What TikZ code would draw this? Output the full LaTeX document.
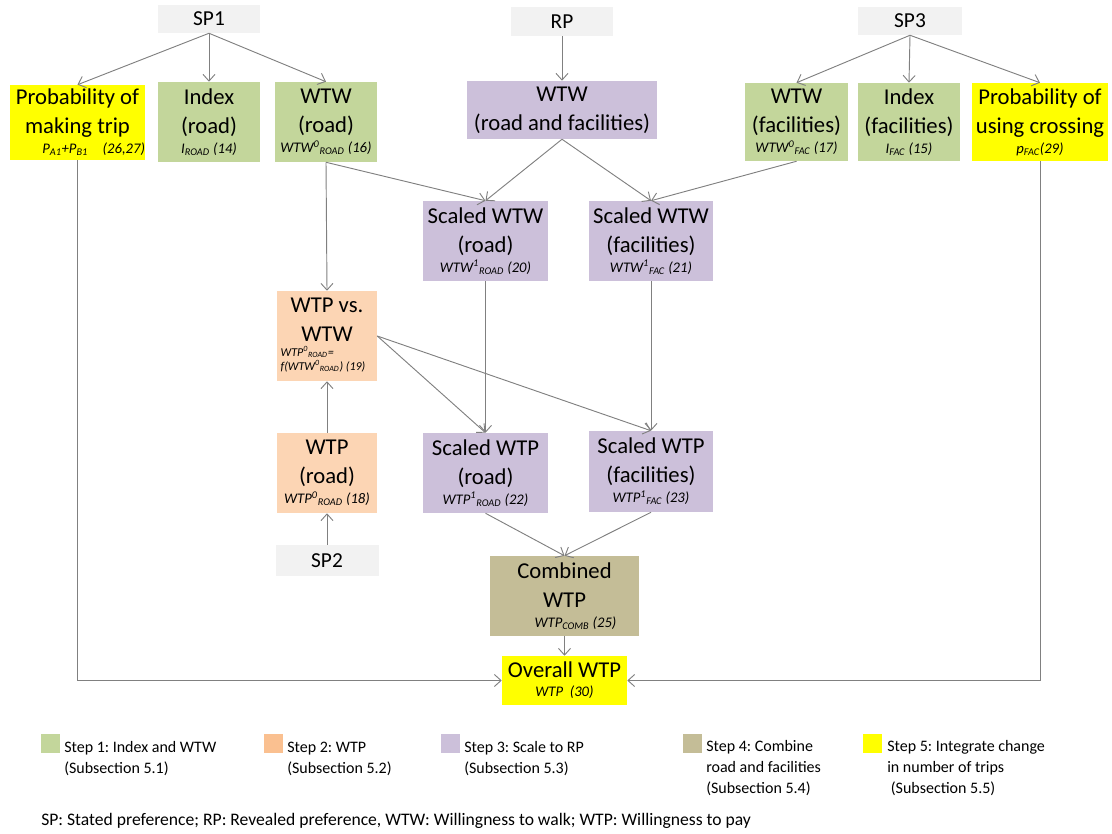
\documentclass[tikz,border=0pt]{standalone}
\usepackage{fontspec}
\setmainfont{Carlito}
\usetikzlibrary{arrows.meta}
\definecolor{spgray}{HTML}{F2F2F2}
\definecolor{stepgreen}{HTML}{C3D69B}
\definecolor{stepyellow}{HTML}{FFFF00}
\definecolor{steppurple}{HTML}{CCC0DA}
\definecolor{steporange}{HTML}{FCD5B4}
\definecolor{legorange}{HTML}{FAC090}
\definecolor{steptan}{HTML}{C4BD97}
\definecolor{arrowgray}{HTML}{808080}
\newcommand{\sublbl}[1]{{\fontsize{11}{13}\selectfont\itshape #1}}
\tikzset{
  box/.style={inner sep=0pt, align=center, font=\fontsize{17}{21.75}\selectfont},
  spbox/.style={fill=spgray, inner sep=0pt, font=\fontsize{16}{19}\selectfont},
  conn/.style={draw=arrowgray, line width=0.7pt, -{Straight Barb[length=5pt,width=9pt]}},
  legsq/.style={inner sep=0pt, minimum width=14.25pt, minimum height=14.25pt},
  legtext/.style={anchor=base west, inner sep=0pt, align=left, font=\fontsize{12}{15.5}\selectfont}
}
\begin{document}
\begin{tikzpicture}[x=0.75pt, y=-0.75pt]
\useasboundingbox (0,0) rectangle (1112,834);

% sources
\node[spbox, minimum width=76.5pt, minimum height=21pt] (sp1) at (209,19) {SP1};
\node[spbox, minimum width=76.5pt, minimum height=21.75pt] (rp) at (562,21.5) {RP};
\node[spbox, minimum width=78pt, minimum height=21pt] (sp3) at (910,21) {SP3};
\node[spbox, minimum width=77.25pt, minimum height=23.25pt] (sp2) at (327,560.5) {SP2};

% step 1 / 5 top row
\node[box, fill=stepyellow, minimum width=101.25pt, minimum height=56.25pt] (probA) at (77.5,122.5)
  {Probability of\\making trip\\[-6.75pt]\sublbl{\hspace*{2.2em}P\textsubscript{A1}+P\textsubscript{B1}\quad(26,27)}};
\node[box, fill=stepgreen, minimum width=76.5pt, minimum height=60pt] (idxR) at (209,122)
  {Index\\(road)\\[-6.75pt]\sublbl{I\textsubscript{ROAD} (14)}};
\node[box, fill=stepgreen, minimum width=76.5pt, minimum height=60pt] (wtwR) at (326,122)
  {WTW\\(road)\\[-6.75pt]\sublbl{WTW\textsuperscript{0}\textsubscript{ROAD} (16)}};
\node[box, fill=steppurple, minimum width=142.5pt, minimum height=43.5pt] (wtwRF) at (562,110)
  {WTW\\(road and facilities)};
\node[box, fill=stepgreen, minimum width=77.25pt, minimum height=58.5pt] (wtwF) at (796.5,122)
  {WTW\\(facilities)\\[-6.75pt]\sublbl{WTW\textsuperscript{0}\textsubscript{FAC} (17)}};
\node[box, fill=stepgreen, minimum width=76.5pt, minimum height=58.5pt] (idxF) at (909,122)
  {Index\\(facilities)\\[-6.75pt]\sublbl{I\textsubscript{FAC} (15)}};
\node[box, fill=stepyellow, minimum width=102pt, minimum height=58.5pt] (probC) at (1040,122)
  {Probability of\\using crossing\\[-6.75pt]\sublbl{p\textsubscript{FAC}(29)}};

% step 3 scaled WTW
\node[box, fill=steppurple, minimum width=93.75pt, minimum height=60pt] (swtwR) at (485.5,241)
  {Scaled WTW\\(road)\\[-6.75pt]\sublbl{WTW\textsuperscript{1}\textsubscript{ROAD} (20)}};
\node[box, fill=steppurple, minimum width=93pt, minimum height=60pt] (swtwF) at (651,241)
  {Scaled WTW\\(facilities)\\[-6.75pt]\sublbl{WTW\textsuperscript{1}\textsubscript{FAC} (21)}};

% step 2
\node[box, fill=steporange, minimum width=75pt, minimum height=67.5pt] (wtpvs) at (327,336)
  {WTP vs.\\WTW\\{\fontsize{9}{9.75}\selectfont\itshape\begin{tabular}[b]{@{}l@{}}WTP\textsuperscript{0}\textsubscript{ROAD}=\\f(WTW\textsuperscript{0}\textsubscript{ROAD}) (19)\end{tabular}}\hspace*{6pt}};
\node[box, fill=steporange, minimum width=75pt, minimum height=60pt] (wtpR) at (327,473)
  {WTP\\(road)\\[-6.75pt]\sublbl{WTP\textsuperscript{0}\textsubscript{ROAD} (18)}};

% step 3 scaled WTP
\node[box, fill=steppurple, minimum width=93.75pt, minimum height=60pt] (swtpR) at (485.5,473)
  {Scaled WTP\\(road)\\[-6.75pt]\sublbl{WTP\textsuperscript{1}\textsubscript{ROAD} (22)}};
\node[box, fill=steppurple, minimum width=93pt, minimum height=60.75pt] (swtpF) at (651,471.5)
  {Scaled WTP\\(facilities)\\[-6.75pt]\sublbl{WTP\textsuperscript{1}\textsubscript{FAC} (23)}};

% step 4 / 5
\node[box, fill=steptan, minimum width=111.75pt, minimum height=60pt] (comb) at (564.5,596)
  {Combined\\WTP\\[-6.75pt]\sublbl{\hspace*{1.5em}WTP\textsubscript{COMB} (25)}};
\node[box, fill=stepyellow, minimum width=93.75pt, minimum height=36.75pt] (overall) at (564.5,680.5)
  {Overall WTP\\[-7.5pt]\sublbl{WTP\ \ (30)}};

% connectors
\draw[conn] (sp1.south) -- (probA.north);
\draw[conn] (sp1.south) -- (idxR.north);
\draw[conn] (sp1.south) -- (wtwR.north);
\draw[conn] (rp.south) -- (wtwRF.north);
\draw[conn] (sp3.south) -- (wtwF.north);
\draw[conn] (sp3.south) -- (idxF.north);
\draw[conn] (sp3.south) -- (probC.north);
\draw[conn] (wtwRF.south) -- (swtwR.north);
\draw[conn] (wtwRF.south) -- (swtwF.north);
\draw[conn] (wtwR.south) -- (swtwR.north);
\draw[conn] (wtwF.south) -- (swtwF.north);
\draw[conn] (wtwR.south) -- (wtpvs.north);
\draw[conn] (swtwR.south) -- (swtpR.north);
\draw[conn] (swtwF.south) -- (swtpF.north);
\draw[conn] (wtpvs.east) -- (swtpR.north);
\draw[conn] (wtpvs.east) -- (swtpF.north);
\draw[conn] (wtpR.north) -- (wtpvs.south);
\draw[conn] (sp2.north) -- (wtpR.south);
\draw[conn] (swtpR.south) -- (comb.north);
\draw[conn] (swtpF.south) -- (comb.north);
\draw[conn] (comb.south) -- (overall.north);
\draw[conn] (probA.south) |- (overall.west);
\draw[conn] (probC.south) |- (overall.east);

% legend
\node[legsq, fill=stepgreen] (lg1) at (50.5,743.5) {};
\node[legtext] (lt1) at (64,773) {Step 1:\ Index and WTW\\(Subsection 5.1)};
\node[legsq, fill=legorange] (lg2) at (273.5,743.5) {};
\node[legtext] (lt2) at (287,773) {Step 2:\ WTP\\(Subsection 5.2)};
\node[legsq, fill=steppurple] (lg3) at (450.5,743.5) {};
\node[legtext] (lt3) at (464,773) {Step 3:\ Scale to RP\\(Subsection 5.3)};
\node[legsq, fill=steptan] (lg4) at (692.5,743.5) {};
\node[legtext] (lt4) at (706,793) {Step 4:\ Combine\\road and facilities\\(Subsection 5.4)};
\node[legsq, fill=stepyellow] (lg5) at (872.5,743.5) {};
\node[legtext] (lt5) at (887,793) {Step 5:\ Integrate change\\in number of trips\\\ (Subsection 5.5)};
\node[anchor=base west, inner sep=0pt, font=\fontsize{13.2}{16}\selectfont] (foot) at (41,825)
  {SP: Stated preference; RP: Revealed preference, WTW: Willingness to walk; WTP: Willingness to pay};
\end{tikzpicture}
\end{document}
